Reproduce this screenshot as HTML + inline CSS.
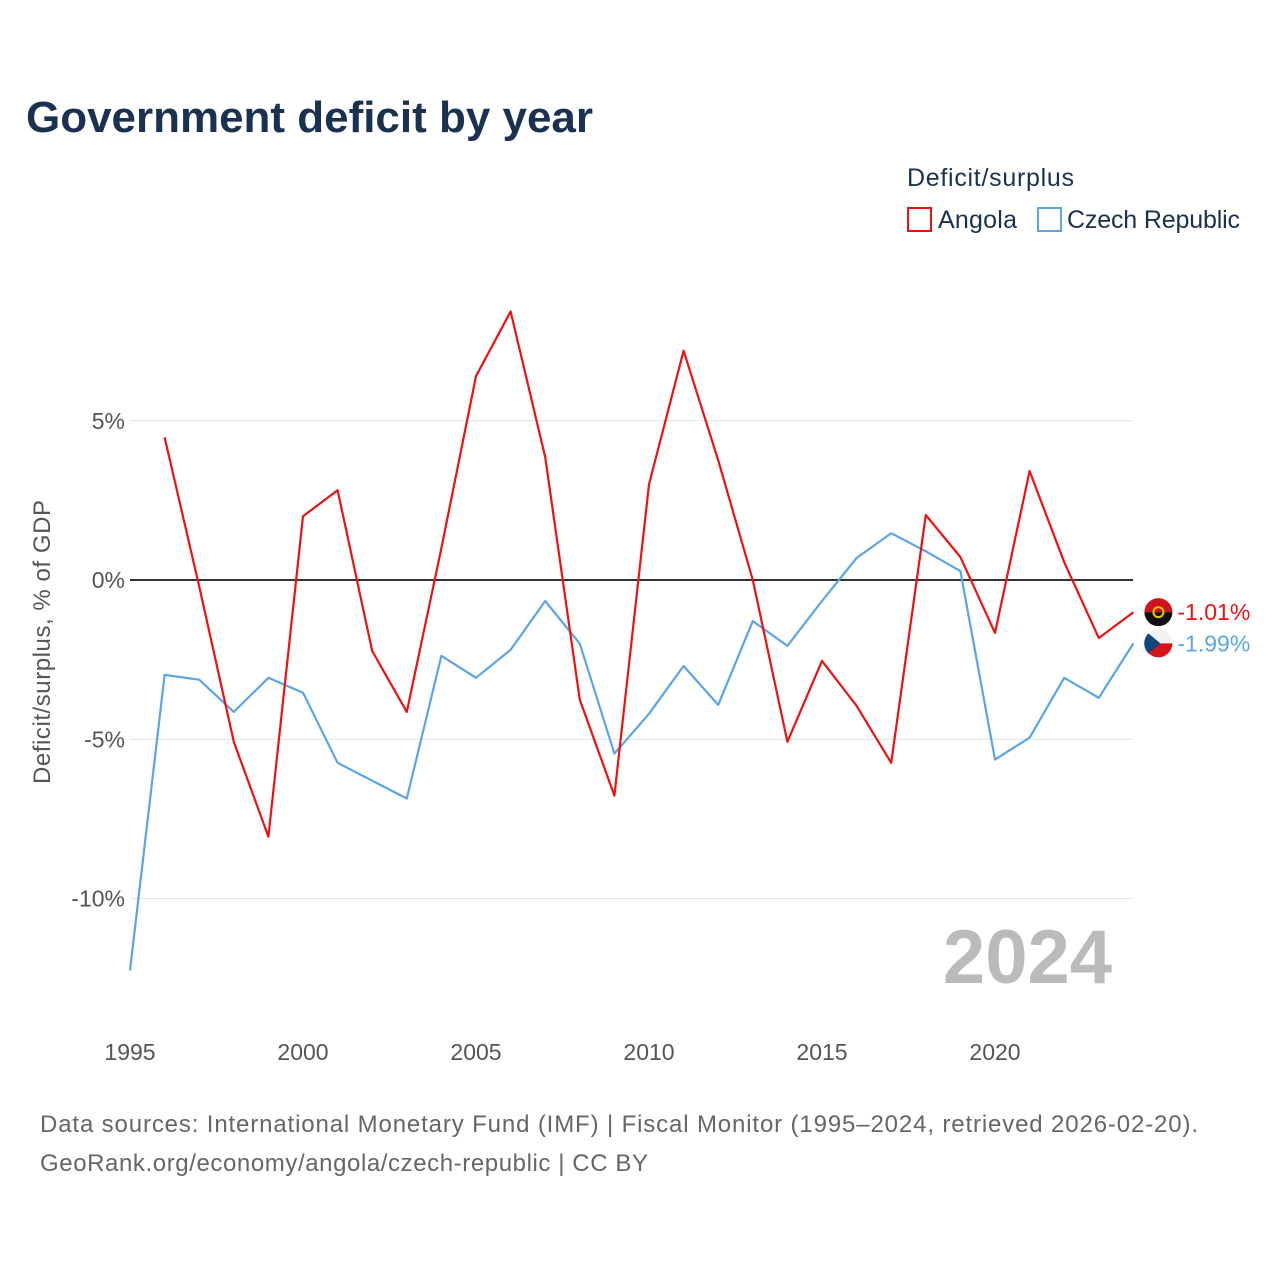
<!DOCTYPE html>
<html><head><meta charset="utf-8"><style>
body{margin:0;background:#fff;font-family:"Liberation Sans",sans-serif;}
</style></head><body>
<svg width="1280" height="1280" viewBox="0 0 1280 1280" xmlns="http://www.w3.org/2000/svg">
<text x="26" y="132" font-size="44" font-weight="bold" fill="#1a3150" textLength="567">Government deficit by year</text>
<text x="907" y="186" font-size="25" fill="#1a3150" textLength="167">Deficit/surplus</text>
<g><rect x="908" y="208" width="23" height="23" fill="none" stroke="#ee1111" stroke-width="2"/><text x="938" y="228" font-size="25" fill="#1a3150" textLength="79">Angola</text></g>
<g><rect x="1038" y="208" width="23" height="23" fill="none" stroke="#5aa5e8" stroke-width="2"/><text x="1067" y="228" font-size="25" fill="#1a3150" textLength="173">Czech Republic</text></g>
<text transform="translate(50,642) rotate(-90)" text-anchor="middle" font-size="24" fill="#555" textLength="284">Deficit/surplus, % of GDP</text>
<g id="grid"></g><g id="ticks"></g><g id="lines"></g>
<text x="1112" y="983" text-anchor="end" font-size="76" font-weight="bold" fill="#bbb">2024</text>
<text x="40" y="1132" font-size="24" fill="#666" textLength="1158">Data sources: International Monetary Fund (IMF) | Fiscal Monitor (1995–2024, retrieved 2026-02-20).</text>
<text x="40" y="1171" font-size="24" fill="#666" textLength="608">GeoRank.org/economy/angola/czech-republic | CC BY</text>
</svg>
<script>
const years=[];for(let y=1995;y<=2024;y++)years.push(y);
const angola=[null,4.48,-0.2,-5.08,-8.06,2.0,2.82,-2.23,-4.14,1.0,6.4,8.43,3.86,-3.76,-6.77,3.0,7.2,3.76,0,-5.08,-2.54,-3.95,-5.74,2.04,0.72,-1.66,3.42,0.56,-1.82,-1.01];
const czech=[-12.26,-2.98,-3.13,-4.14,-3.07,-3.54,-5.74,-6.3,-6.86,-2.38,-3.07,-2.19,-0.66,-2.0,-5.45,-4.2,-2.7,-3.92,-1.29,-2.07,-0.66,0.69,1.47,0.9,0.28,-5.64,-4.95,-3.07,-3.7,-1.99];
const yTicks=[5,0,-5,-10];
const yLabels=["5%","0%","-5%","-10%"];
const xTicks=[1995,2000,2005,2010,2015,2020];
const NS="http://www.w3.org/2000/svg";
const X=y=>130+(y-1995)*34.6;
const Y=v=>580-v*31.85;
function mk(t,a,p){const e=document.createElementNS(NS,t);for(const k in a)e.setAttribute(k,a[k]);p.appendChild(e);return e;}
const grid=document.getElementById('grid'),ticks=document.getElementById('ticks'),lines=document.getElementById('lines');
yTicks.forEach((v,i)=>{
 const l=mk('line',{x1:130,x2:1133,y1:Y(v),y2:Y(v),stroke:v===0?'#333':'#e4e4e4','stroke-width':v===0?2:1},grid);
 
 
 const t=mk('text',{x:125,y:Y(v)+8,'text-anchor':'end','font-size':23,fill:'#555'},ticks);t.textContent=yLabels[i];
 
 
});
xTicks.forEach(v=>{
 const t=mk('text',{x:X(v),y:1060,'text-anchor':'middle','font-size':23,fill:'#555'},ticks);t.textContent=v;
 
 
});
function series(d,c,name){
 const pts=[];d.forEach((v,i)=>{if(v!==null)pts.push(X(years[i]).toFixed(1)+','+Y(v).toFixed(1));});
 const p=mk('polyline',{points:pts.join(' '),fill:'none',stroke:c,'stroke-width':2.2,'stroke-linejoin':'round'},lines);
 
 
}
series(czech,'#5aa5e8','czech-line');
series(angola,'#ee1111','angola-line');
function endLabel(v,c,name,flag){
 const x=X(2024),y=Y(v);
 const g=mk('g',{},lines);
 
 
 mk('circle',{cx:x+25,cy:y,r:14,fill:'#fff'},g);
 if(flag==='ao'){
  mk('path',{d:`M${x+11},${y} a14,14 0 0 1 28,0 z`,fill:'#d0121b'},g);
  mk('path',{d:`M${x+11},${y} a14,14 0 0 0 28,0 z`,fill:'#111'},g);
  mk('circle',{cx:x+25,cy:y,r:5,fill:'none',stroke:'#f5c400','stroke-width':2},g);
 } else {
  mk('path',{d:`M${x+11},${y} a14,14 0 0 1 28,0 z`,fill:'#f2f2f2'},g);
  mk('path',{d:`M${x+11},${y} a14,14 0 0 0 28,0 z`,fill:'#d7141a'},g);
  mk('path',{d:`M${x+15},${y-10} L${x+27},${y} L${x+15},${y+10} A14,14 0 0 1 ${x+15},${y-10} z`,fill:'#11457e'},g);
 }
 const t=mk('text',{x:x+44,y:y+8,'font-size':23,fill:c},g);t.textContent=v.toFixed(2)+'%';
}
endLabel(angola[29],'#ee1111','angola-end-label','ao');
endLabel(czech[29],'#5aa5e8','czech-end-label','cz');
</script>
</body></html>
